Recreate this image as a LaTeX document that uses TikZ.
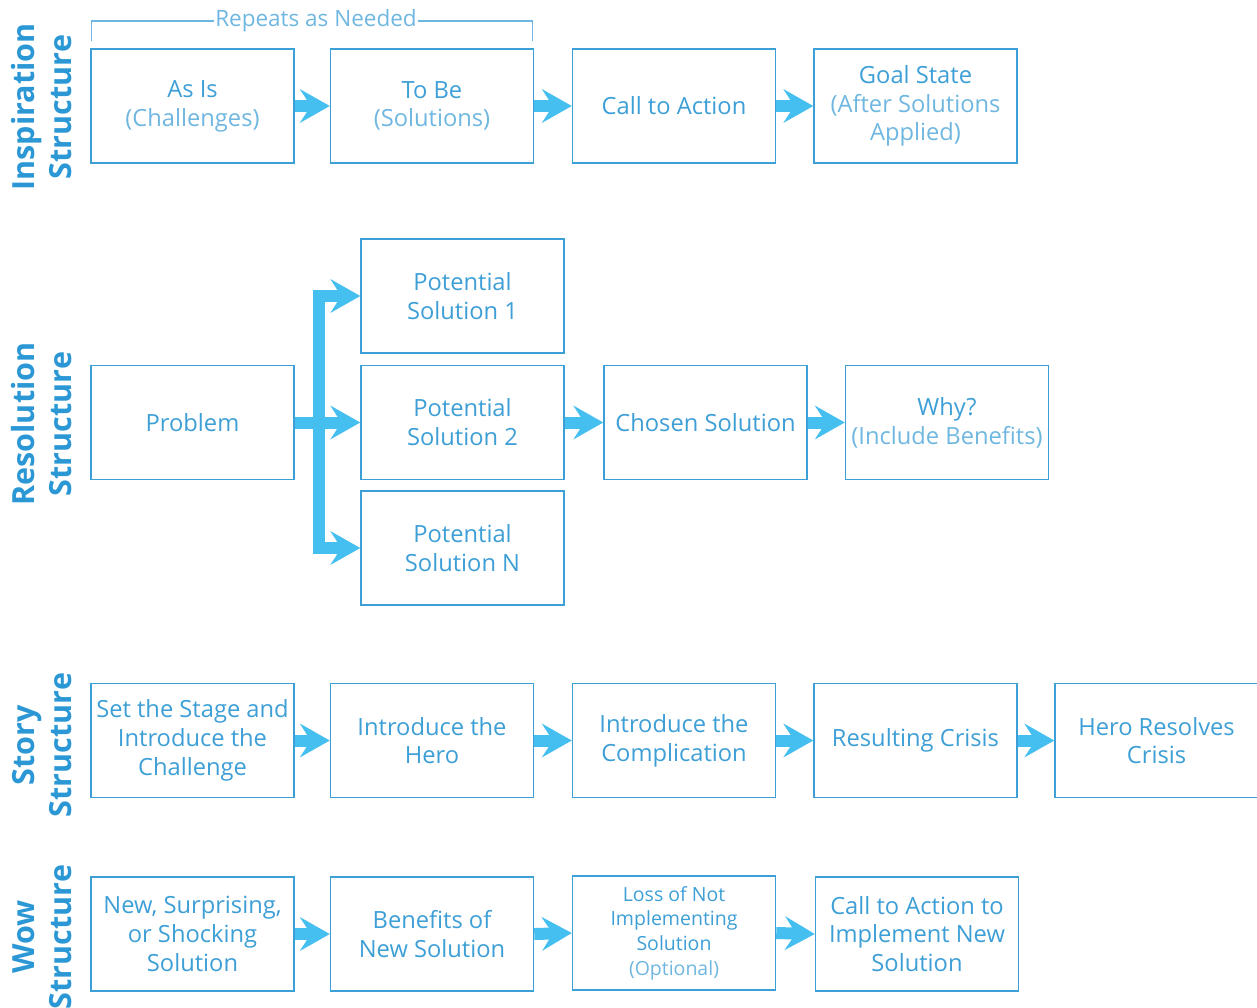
\documentclass[tikz,border=0pt]{standalone}
\usepackage{fontspec}
\setmainfont{Open Sans}
\usetikzlibrary{arrows.meta,calc}
\definecolor{boxline}{HTML}{3C9FD5}
\definecolor{flow}{HTML}{45BEF0}
\definecolor{boxtext}{HTML}{3D9FD6}
\definecolor{softtext}{HTML}{6FB7E0}
\definecolor{rowlabel}{HTML}{2B97D4}
\tikzset{
  stepbox/.style={draw=boxline, line width=1.5pt, minimum width=203pt, minimum height=114pt,
    inner sep=2pt, align=center, text=boxtext, font=\fontsize{23.7}{28.8}\selectfont},
  smallbox/.style={stepbox, font=\fontsize{19.5}{24.6}\selectfont},
  conn/.style={draw=flow, line width=12pt,
    -{Stealth[length=30pt, width=34pt, inset=11pt, line width=0pt, fill=flow]}},
  rail/.style={draw=flow, line width=12pt, line cap=rect},
  rowname/.style={rotate=90, align=center, text=rowlabel,
    font=\bfseries\fontsize{30.5}{37}\selectfont},
}
\newcommand{\lite}[1]{\textcolor{softtext}{#1}}
\begin{document}
\begin{tikzpicture}[x=1pt,y=-1pt]
\useasboundingbox (0,0) rectangle (1257,1007);

% row labels
\node[rowname] (lab1) at (42,107) {Inspiration\\Structure};
\node[rowname] (lab2) at (42,424) {Resolution\\Structure};
\node[rowname] (lab3) at (42,745) {Story\\Structure};
\node[rowname] (lab4) at (42,937) {Wow\\Structure};

% inspiration structure
\node[stepbox] (i1) at (192.5,106) {As Is\\\lite{(Challenges)}};
\node[stepbox] (i2) at (432,106) {To Be\\\lite{(Solutions)}};
\node[stepbox] (i3) at (674,106) {Call to Action};
\node[stepbox] (i4) at (915.5,106) {Goal State\\\lite{(After Solutions}\\\lite{Applied)}};
\foreach \a/\b in {i1/i2,i2/i3,i3/i4} \draw[conn] (\a.east) -- (\b.west);

% bracket over the repeating pair
\node[text=softtext, font=\fontsize{22.5}{26}\selectfont, inner sep=1pt] (rep) at (316,21) {Repeats as Needed};
\coordinate (bl) at (91.5,41);
\coordinate (br) at (532.5,41);
\draw[softtext, line width=1.2pt] (bl) -- (bl |- rep) -- (rep.west);
\draw[softtext, line width=1.2pt] (rep.east) -- (br |- rep) -- (br);

% resolution structure
\node[stepbox] (r0) at (192.5,422.5) {Problem};
\node[stepbox] (p1) at (462.5,296) {Potential\\Solution 1};
\node[stepbox] (p2) at (462.5,422.5) {Potential\\Solution 2};
\node[stepbox] (pn) at (462.5,548) {Potential\\Solution N};
\node[stepbox] (cs) at (705.5,422.5) {Chosen Solution};
\node[stepbox] (wy) at (947,422.5) {Why?\\\lite{(Include Benefits)}};
\coordinate (fork) at (319,422.5);
\draw[rail] (fork |- p1) -- (fork |- pn);
\draw[conn] (r0.east) -- (p2.west);
\draw[conn] (fork |- p1) -- (p1.west);
\draw[conn] (fork |- pn) -- (pn.west);
\draw[conn] (p2.east) -- (cs.west);
\draw[conn] (cs.east) -- (wy.west);

% story structure
\node[stepbox] (s1) at (192.5,740.5) {Set the Stage and\\Introduce the\\Challenge};
\node[stepbox] (s2) at (432,740.5) {Introduce the\\Hero};
\node[stepbox] (s3) at (674,740.5) {Introduce the\\Complication};
\node[stepbox] (s4) at (915.5,740.5) {Resulting Crisis};
\node[stepbox] (s5) at (1156.5,740.5) {Hero Resolves\\Crisis};
\foreach \a/\b in {s1/s2,s2/s3,s3/s4,s4/s5} \draw[conn] (\a.east) -- (\b.west);

% wow structure
\node[stepbox] (w1) at (192.5,934) {New, Surprising,\\or Shocking\\Solution};
\node[stepbox] (w2) at (432,934) {Benefits of\\New Solution};
\node[smallbox] (w3) at (674,933) {Loss of Not\\Implementing\\Solution\\\lite{(Optional)}};
\node[stepbox] (w4) at (917,934) {Call to Action to\\Implement New\\Solution};
\foreach \a/\b in {w1/w2,w2/w3,w3/w4} \draw[conn] (\a.east) -- (\b.west);
\end{tikzpicture}
\end{document}
